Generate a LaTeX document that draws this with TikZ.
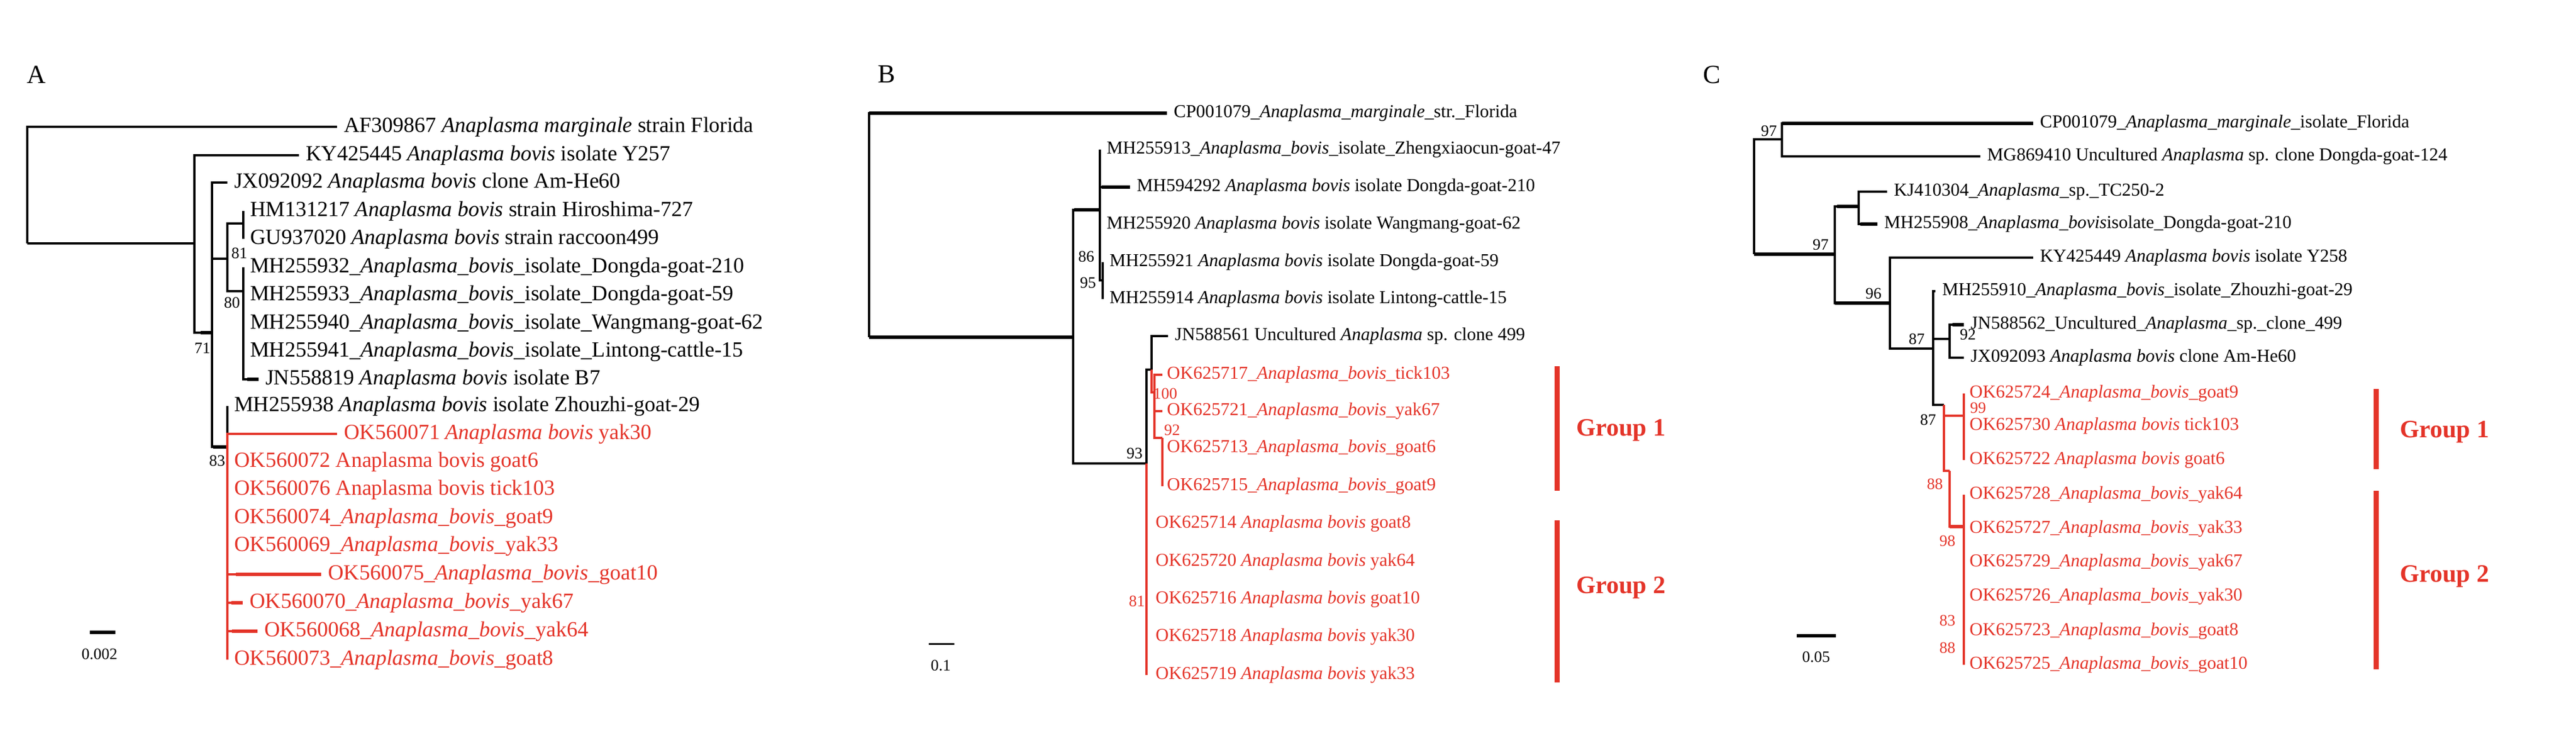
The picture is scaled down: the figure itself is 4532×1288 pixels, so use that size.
\documentclass[tikz,border=0pt]{standalone}
\usepackage{fontspec}
\setmainfont{Liberation Serif}
\usetikzlibrary{calc}
\definecolor{tred}{RGB}{228,52,41}
\newcommand\ana{\textit{Anaplasma}}
\newcommand\bov{\textit{bovis}}
\newcommand\mar{\textit{marginale}}
\begin{document}
\begin{tikzpicture}[x=1pt,y=-1pt,
  br/.style={line width=3.5pt},
  thk/.style={line width=6.5pt},
  lab/.style={anchor=west,inner sep=0pt,font=\fontsize{32}{36}\selectfont,xshift=12pt},
  laba/.style={lab,font=\fontsize{38}{40}\selectfont},
  bs/.style={inner sep=0pt,font=\fontsize{28}{32}\selectfont},
  grp/.style={inner sep=0pt,font=\fontsize{44}{50}\selectfont\bfseries,text=tred,anchor=west},
  gbar/.style={draw=tred,line width=9pt},
  pl/.style={inner sep=0pt,font=\fontsize{46}{50}\selectfont}]
\useasboundingbox (0,0) rectangle (4532,1288);
% panel letters
\node[pl] (LA) at (64,131) {A};
\node[pl] (LB) at (1560,131) {B};
\node[pl] (LC) at (3012,131) {C};
%%%%%%%%%%%%%%%% PANEL A
\coordinate (rA) at (48,428);
\coordinate (nAB) at (342,428);
\coordinate (n71) at (373,585);
\coordinate (nX) at (400,455);
\coordinate (nP) at (428,393);
\coordinate (nQ) at (428,512);
\coordinate (n83) at (400,786);
\coordinate (tAF) at (593,223);
\coordinate (tKY) at (526,273);
\coordinate (tJX) at (400,321);
\coordinate (tHM) at (428,371);
\coordinate (tGU) at (428,420);
\coordinate (t32) at (428,470);
\coordinate (t33) at (428,519);
\coordinate (t40) at (428,569);
\coordinate (t41) at (428,618);
\coordinate (tJN) at (455,667);
\coordinate (t38) at (400,714);
\coordinate (o71) at (593,763);
\coordinate (o72) at (400,812);
\coordinate (o76) at (400,861);
\coordinate (o74) at (400,911);
\coordinate (o69) at (400,960);
\coordinate (o75) at (565,1010);
\coordinate (o70) at (427,1060);
\coordinate (o68) at (453,1110);
\coordinate (o73) at (400,1160);
\draw[br] (rA) |- (tAF);
\draw[br] (rA) -- (nAB);
\draw[br] (nAB) |- (tKY);
\draw[br] (nAB) |- (n71);
\draw[thk] ($(n71)+(-20,0)$) -- (n71);
\draw[br] (n71) |- (tJX);
\draw[br] (n71) |- (nX);
\draw[br] (n71) |- (n83);
\draw[thk] ($(n83)+(-25,0)$) -- (n83);
\draw[br] (nX) |- (nP);
\draw[br] (nX) |- (nQ);
\draw[br] (nP) |- (tHM);
\draw[br] (nP) |- (tGU);
\foreach \t in {t32,t33,t40,t41}{\draw[br] (nQ) |- (\t);}
\draw[br] (nQ) |- (tJN);
\draw[thk] ($(tJN)+(-20,0)$) -- (tJN);
\draw[br] (n83) |- (t38);
\foreach \t in {o71,o72,o76,o74,o69,o75,o70,o68,o73}{\draw[br,draw=tred] (n83) |- (\t);}
\draw[thk,draw=tred] ($(o70)+(-20,0)$) -- (o70);
\draw[thk,draw=tred] ($(o68)+(-45,0)$) -- (o68);
\draw[thk,draw=tred] ($(o75)+(-150,0)$) -- (o75);
\node[laba] (LAF) at (tAF) {AF309867 \ana\ \mar\ strain Florida};
\node[laba] (LKY) at (tKY) {KY425445 \ana\ \bov\ isolate Y257};
\node[laba] (LJX) at (tJX) {JX092092 \ana\ \bov\ clone Am-He60};
\node[laba] (LHM) at (tHM) {HM131217 \ana\ \bov\ strain Hiroshima-727};
\node[laba] (LGU) at (tGU) {GU937020 \ana\ \bov\ strain raccoon499};
\node[laba] (L32) at (t32) {MH255932\_\ana\_\bov\_isolate\_Dongda-goat-210};
\node[laba] (L33) at (t33) {MH255933\_\ana\_\bov\_isolate\_Dongda-goat-59};
\node[laba] (L40) at (t40) {MH255940\_\ana\_\bov\_isolate\_Wangmang-goat-62};
\node[laba] (L41) at (t41) {MH255941\_\ana\_\bov\_isolate\_Lintong-cattle-15};
\node[laba] (LJN) at (tJN) {JN558819 \ana\ \bov\ isolate B7};
\node[laba] (L38) at (t38) {MH255938 \ana\ \bov\ isolate Zhouzhi-goat-29};
\begin{scope}[every node/.append style={text=tred}]
\node[laba] (Lo71) at (o71) {OK560071 \ana\ \bov\ yak30};
\node[laba] (Lo72) at (o72) {OK560072 Anaplasma bovis goat6};
\node[laba] (Lo76) at (o76) {OK560076 Anaplasma bovis tick103};
\node[laba] (Lo74) at (o74) {OK560074\_\ana\_\bov\_goat9};
\node[laba] (Lo69) at (o69) {OK560069\_\ana\_\bov\_yak33};
\node[laba] (Lo75) at (o75) {OK560075\_\ana\_\bov\_goat10};
\node[laba] (Lo70) at (o70) {OK560070\_\ana\_\bov\_yak67};
\node[laba] (Lo68) at (o68) {OK560068\_\ana\_\bov\_yak64};
\node[laba] (Lo73) at (o73) {OK560073\_\ana\_\bov\_goat8};
\end{scope}
\node[bs] (bA71) at (356,612) {71};
\node[bs] (bA81) at (421,445) {81};
\node[bs] (bA80) at (408,532) {80};
\node[bs] (bA83) at (382,810) {83};
\coordinate (sA1) at (158,1112); \coordinate (sA2) at (203,1112);
\draw[line width=6pt] (sA1) -- (sA2);
\node[bs] (sAl) at (175,1150) {0.002};
%%%%%%%%%%%%%%%% PANEL B
\coordinate (rB) at (1529,593);
\coordinate (nB1) at (1888,593);
\coordinate (nB2) at (1935,369);
\coordinate (nB3) at (1940,493);
\coordinate (n93) at (2017,815);
\coordinate (nBA) at (2026,650);
\coordinate (nR) at (2031,690);
\coordinate (nS) at (2045,770);
\coordinate (tCP) at (2053,199);
\coordinate (t913) at (1935,263);
\coordinate (t292) at (1988,329);
\coordinate (t920) at (1935,395);
\coordinate (t921) at (1940,461);
\coordinate (t914) at (1940,526);
\coordinate (tJNb) at (2055,591);
\coordinate (k717) at (2045,659);
\coordinate (k721) at (2045,723);
\coordinate (k713) at (2045,788);
\coordinate (k715) at (2045,855);
\coordinate (k714) at (2017,921);
\coordinate (k720) at (2017,988);
\coordinate (k716) at (2017,1054);
\coordinate (k718) at (2017,1120);
\coordinate (k719) at (2017,1187);
\draw[br] (rB) |- (tCP);
\draw[thk] ($(rB)+(0,-394)$) -- (tCP);
\draw[thk] (rB) -- (nB1);
\draw[br] (nB1) |- (nB2);
\draw[thk] ($(nB2)+(-45,0)$) -- (nB2);
\draw[br] (nB1) |- (n93);
\draw[br] (nB2) |- (t913);
\draw[br] (nB2) |- (t292);
\draw[thk] ($(t292)+(-50,0)$) -- (t292);
\draw[br] (nB2) |- (t920);
\draw[br] (nB2) |- (nB3);
\draw[br] (nB3) |- (t921);
\draw[br] (nB3) |- (t914);
\draw[br] (n93) |- (nBA);
\draw[br] (nBA) |- (tJNb);
\foreach \t in {k714,k720,k716,k718,k719}{\draw[br,draw=tred] (n93) |- (\t);}
\draw[br,draw=tred] (nBA) |- (nR);
\draw[br,draw=tred] (nR) |- (k717);
\draw[br,draw=tred] (nR) |- (k721);
\draw[br,draw=tred] (nR) |- (nS);
\draw[br,draw=tred] (nS) |- (k713);
\draw[br,draw=tred] (nS) |- (k715);
\node[lab] (LCP) at (tCP) {CP001079\_\ana\_\mar\_str.\_Florida};
\node[lab] (L913) at (t913) {MH255913\_\ana\_\bov\_isolate\_Zhengxiaocun-goat-47};
\node[lab] (L292) at (t292) {MH594292 \ana\ \bov\ isolate Dongda-goat-210};
\node[lab] (L920) at (t920) {MH255920 \ana\ \bov\ isolate Wangmang-goat-62};
\node[lab] (L921) at (t921) {MH255921 \ana\ \bov\ isolate Dongda-goat-59};
\node[lab] (L914) at (t914) {MH255914 \ana\ \bov\ isolate Lintong-cattle-15};
\node[lab] (LJNb) at (tJNb) {JN588561 Uncultured \ana\ sp. clone 499};
\begin{scope}[every node/.append style={text=tred}]
\node[lab,xshift=-4pt] (L717) at (k717) {OK625717\_\ana\_\bov\_tick103};
\node[lab,xshift=-4pt] (L721) at (k721) {OK625721\_\ana\_\bov\_yak67};
\node[lab,xshift=-4pt] (L713) at (k713) {OK625713\_\ana\_\bov\_goat6};
\node[lab,xshift=-4pt] (L715) at (k715) {OK625715\_\ana\_\bov\_goat9};
\node[lab,xshift=4pt] (L714) at (k714) {OK625714 \ana\ \bov\ goat8};
\node[lab,xshift=4pt] (L720) at (k720) {OK625720 \ana\ \bov\ yak64};
\node[lab,xshift=4pt] (L716) at (k716) {OK625716 \ana\ \bov\ goat10};
\node[lab,xshift=4pt] (L718) at (k718) {OK625718 \ana\ \bov\ yak30};
\node[lab,xshift=4pt] (L719) at (k719) {OK625719 \ana\ \bov\ yak33};
\node[bs] (bB100) at (2050,692) {100};
\node[bs] (bB92) at (2062,756) {92};
\node[bs] (bB81) at (2000,1057) {81};
\end{scope}
\node[bs] (bB86) at (1911,451) {86};
\node[bs] (bB95) at (1914,497) {95};
\node[bs] (bB93) at (1996,797) {93};
\coordinate (gB1a) at (2739,644); \coordinate (gB1b) at (2739,863);
\coordinate (gB2a) at (2739,915); \coordinate (gB2b) at (2739,1200);
\draw[gbar] (gB1a) -- (gB1b);
\draw[gbar] (gB2a) -- (gB2b);
\node[grp] (GB1) at (2773,757) {Group 1};
\node[grp] (GB2) at (2773,1034) {Group 2};
\coordinate (sB1) at (1634,1132); \coordinate (sB2) at (1679,1132);
\draw[line width=3pt] (sB1) -- (sB2);
\node[bs] (sBl) at (1655,1170) {0.1};
%%%%%%%%%%%%%%%% PANEL C
\coordinate (rC) at (3086,447);
\coordinate (n97a) at (3135,245);
\coordinate (n97b) at (3228,447);
\coordinate (nK) at (3270,363);
\coordinate (n96) at (3325,533);
\coordinate (n87) at (3401,613);
\coordinate (n92) at (3430,596);
\coordinate (n87b) at (3420,712);
\coordinate (n99) at (3455,731);
\coordinate (n88) at (3430,828);
\coordinate (n98) at (3455,926);
\coordinate (cCP) at (3577,217);
\coordinate (cMG) at (3484,275);
\coordinate (cKJ) at (3320,337);
\coordinate (c908) at (3303,394);
\coordinate (cKY) at (3577,453);
\coordinate (c910) at (3405,512);
\coordinate (cJN) at (3455,571);
\coordinate (cJX) at (3455,629);
\coordinate (c724) at (3455,692);
\coordinate (c730) at (3455,749);
\coordinate (c722) at (3455,809);
\coordinate (c728) at (3455,870);
\coordinate (c727) at (3455,930);
\coordinate (c729) at (3455,989);
\coordinate (c726) at (3455,1049);
\coordinate (c723) at (3455,1110);
\coordinate (c725) at (3455,1169);
\draw[br] (rC) |- (n97a);
\draw[thk] (rC) -- (n97b);
\draw[br] (n97a) |- (cCP);
\draw[thk] ($(n97a)+(0,-28)$) -- (cCP);
\draw[br] (n97a) |- (cMG);
\draw[br] (n97b) |- (nK);
\draw[thk] ($(nK)+(-38,0)$) -- (nK);
\draw[br] (n97b) |- (n96);
\draw[thk] (n97b |- n96) -- (n96);
\draw[br] (nK) |- (cKJ);
\draw[br] (nK) |- (c908);
\draw[thk] ($(c908)+(-30,0)$) -- (c908);
\draw[br] (n96) |- (cKY);
\draw[br] (n96) |- (n87);
\draw[br] (n87) |- (c910);
\draw[br] (n87) |- (n92);
\draw[br] (n87) |- (n87b);
\draw[br] (n92) |- (cJN);
\draw[thk] ($(cJN)+(-20,0)$) -- (cJN);
\draw[br] (n92) |- (cJX);
\draw[br,draw=tred] (n87b) |- (n99);
\draw[br,draw=tred] (n87b) |- (n88);
\draw[br,draw=tred] (n88) |- (n98);
\draw[thk,draw=tred] (n88 |- n98) -- (n98);
\foreach \t in {c724,c730,c722}{\draw[br,draw=tred] (n99) |- (\t);}
\foreach \t in {c728,c727,c729,c726,c723,c725}{\draw[br,draw=tred] (n98) |- (\t);}
\node[lab] (LcCP) at (cCP) {CP001079\_\ana\_\mar\_isolate\_Florida};
\node[lab] (LcMG) at (cMG) {MG869410 Uncultured \ana\ sp. clone Dongda-goat-124};
\node[lab] (LcKJ) at (cKJ) {KJ410304\_\ana\_sp.\_TC250-2};
\node[lab] (Lc908) at (c908) {MH255908\_\ana\_\bov isolate\_Dongda-goat-210};
\node[lab] (LcKY) at (cKY) {KY425449 \ana\ \bov\ isolate Y258};
\node[lab] (Lc910) at (c910) {MH255910\_\ana\_\bov\_isolate\_Zhouzhi-goat-29};
\node[lab] (LcJN) at (cJN) {JN588562\_Uncultured\_\ana\_sp.\_clone\_499};
\node[lab] (LcJX) at (cJX) {JX092093 \ana\ \bov\ clone Am-He60};
\begin{scope}[every node/.append style={text=tred}]
\node[lab,xshift=-2pt] (L724) at (c724) {OK625724\_\ana\_\bov\_goat9};
\node[lab,xshift=-2pt] (L730) at (c730) {OK625730 \ana\ \bov\ tick103};
\node[lab,xshift=-2pt] (L722) at (c722) {OK625722 \ana\ \bov\ goat6};
\node[lab,xshift=-2pt] (L728) at (c728) {OK625728\_\ana\_\bov\_yak64};
\node[lab,xshift=-2pt] (L727) at (c727) {OK625727\_\ana\_\bov\_yak33};
\node[lab,xshift=-2pt] (L729) at (c729) {OK625729\_\ana\_\bov\_yak67};
\node[lab,xshift=-2pt] (L726) at (c726) {OK625726\_\ana\_\bov\_yak30};
\node[lab,xshift=-2pt] (L723) at (c723) {OK625723\_\ana\_\bov\_goat8};
\node[lab,xshift=-2pt] (L725) at (c725) {OK625725\_\ana\_\bov\_goat10};
\node[bs] (bC99) at (3480,717) {99};
\node[bs] (bC88a) at (3404,851) {88};
\node[bs] (bC98) at (3426,951) {98};
\node[bs] (bC83) at (3426,1091) {83};
\node[bs] (bC88b) at (3426,1139) {88};
\end{scope}
\node[bs] (bC97a) at (3112,230) {97};
\node[bs] (bC97b) at (3203,430) {97};
\node[bs] (bC96) at (3296,516) {96};
\node[bs] (bC87a) at (3372,596) {87};
\node[bs] (bC92) at (3462,588) {92};
\node[bs] (bC87b) at (3392,738) {87};
\coordinate (gC1a) at (4180,684); \coordinate (gC1b) at (4180,825);
\coordinate (gC2a) at (4180,863); \coordinate (gC2b) at (4180,1177);
\draw[gbar] (gC1a) -- (gC1b);
\draw[gbar] (gC2a) -- (gC2b);
\node[grp] (GC1) at (4222,760) {Group 1};
\node[grp] (GC2) at (4222,1014) {Group 2};
\coordinate (sC1) at (3161,1118); \coordinate (sC2) at (3230,1118);
\draw[line width=6pt] (sC1) -- (sC2);
\node[bs] (sCl) at (3195,1155) {0.05};
\end{tikzpicture}
\end{document}
